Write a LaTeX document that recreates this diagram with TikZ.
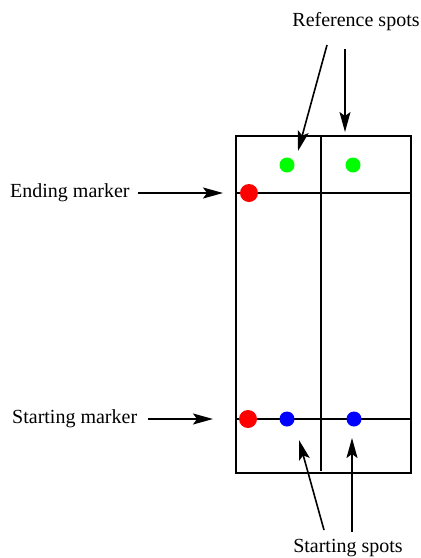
\documentclass[tikz,border=0pt]{standalone}
\usepackage{fontspec}
\setmainfont{Liberation Serif}
\usetikzlibrary{arrows.meta}
\begin{document}
\begin{tikzpicture}[x=1pt,y=-1pt,
  frame/.style={line width=1.6pt},
  grid/.style={line width=1.6pt},
  pointer/.style={line width=1.6pt,-{Stealth[length=20pt,width=11pt,inset=4pt]}},
  label/.style={font=\fontsize{20}{24}\selectfont,inner sep=0pt},
  marker/.style={circle,fill=red,inner sep=0pt,minimum size=18pt},
  refspot/.style={circle,fill=green,inner sep=0pt,minimum size=15pt},
  startspot/.style={circle,fill=blue,inner sep=0pt,minimum size=15pt}]
\useasboundingbox (0,0) rectangle (421,558);

% outer frame and dividing lines
\draw[frame] (236,136) rectangle (411,473);
\draw[grid] (321,136) -- (321,471);
\draw[grid] (236,193) -- (411,193);
\draw[grid] (236,419) -- (411,419);

% spots and markers
\node[refspot] (g1) at (287,165) {};
\node[refspot] (g2) at (353,165) {};
\node[marker] (rEnd) at (249,193) {};
\node[marker] (rStart) at (248,419) {};
\node[startspot] (b1) at (287,419) {};
\node[startspot] (b2) at (354,419) {};

% labels
\node[label] (tRef) at (356,22) {Reference spots};
\node[label,anchor=west] (tEnd) at (10,193) {Ending marker};
\node[label,anchor=west] (tStart) at (12,419) {Starting marker};
\node[label] (tStartSpots) at (348,548) {Starting spots};

% arrow end points
\coordinate (ra1) at (327,45);
\coordinate (ra1e) at (298,151);
\coordinate (ra2) at (345,49);
\coordinate (ra2e) at (345,132);
\coordinate (ea) at (138,193);
\coordinate (eae) at (223,193);
\coordinate (sa) at (148,419);
\coordinate (sae) at (213,419);
\coordinate (sb1) at (324,530);
\coordinate (sb1e) at (299,440);
\coordinate (sb2) at (352,532);
\coordinate (sb2e) at (352,438);

\draw[pointer] (ra1) -- (ra1e);
\draw[pointer] (ra2) -- (ra2e);
\draw[pointer] (ea) -- (eae);
\draw[pointer] (sa) -- (sae);
\draw[pointer] (sb1) -- (sb1e);
\draw[pointer] (sb2) -- (sb2e);
\end{tikzpicture}
\end{document}
